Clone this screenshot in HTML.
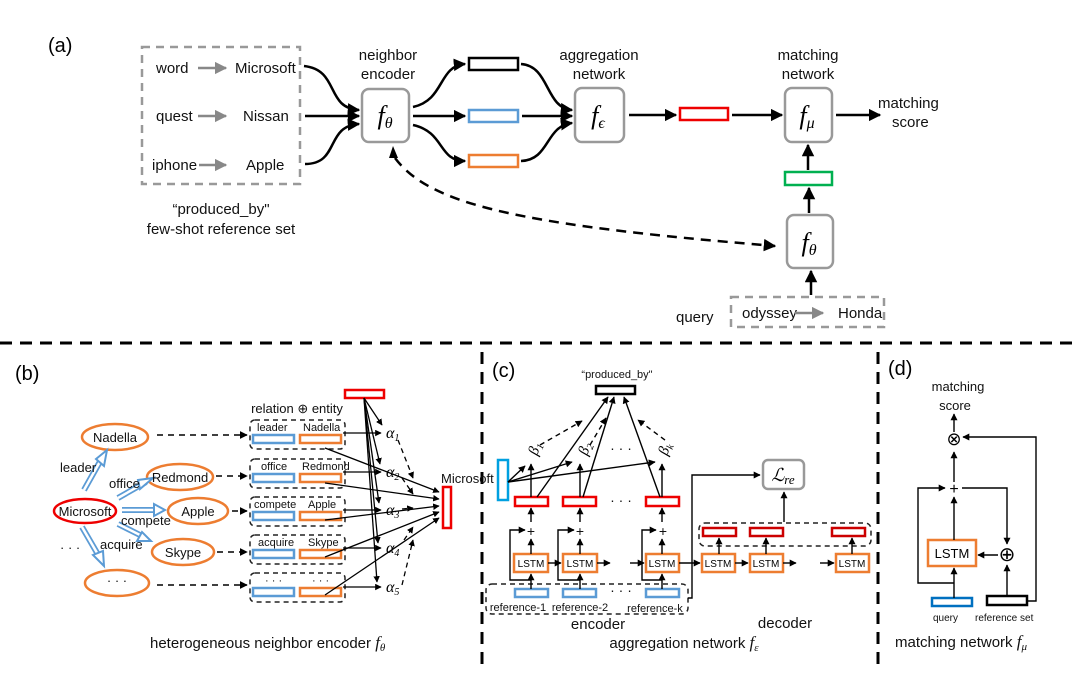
<!DOCTYPE html>
<html><head><meta charset="utf-8"><style>
html,body{margin:0;padding:0;background:#fff;}
svg{display:block;font-family:"Liberation Sans",sans-serif;}
.t{font-size:15px;fill:#111;}
.s{font-size:11px;fill:#111;}
.m{font-family:"Liberation Serif",serif;font-style:italic;}
</style></head><body>
<svg width="1080" height="679" viewBox="0 0 1080 679" xmlns="http://www.w3.org/2000/svg">
<defs>
<marker id="a" viewBox="0 0 10 10" refX="9" refY="5" markerWidth="5" markerHeight="5" orient="auto"><path d="M0,0L10,5L0,10z" fill="#000"/></marker>
<marker id="g" viewBox="0 0 10 10" refX="9" refY="5" markerWidth="5" markerHeight="5" orient="auto"><path d="M0,0L10,5L0,10z" fill="#888"/></marker>
</defs>
<!-- (a) -->
<text x="48" y="52" style="font-size:20px">(a)</text>
<rect x="142" y="47" width="158" height="137" fill="none" stroke="#999" stroke-width="2.5" stroke-dasharray="8,6"/>
<g class="t">
<text x="156" y="73">word</text><text x="235" y="73">Microsoft</text>
<text x="156" y="121">quest</text><text x="243" y="121">Nissan</text>
<text x="152" y="170">iphone</text><text x="246" y="170">Apple</text>
<text x="221" y="214" text-anchor="middle">“produced_by"</text>
<text x="221" y="234" text-anchor="middle">few-shot reference set</text>
<text x="388" y="60" text-anchor="middle">neighbor</text><text x="388" y="79" text-anchor="middle">encoder</text>
<text x="599" y="60" text-anchor="middle">aggregation</text><text x="599" y="79" text-anchor="middle">network</text>
<text x="808" y="60" text-anchor="middle">matching</text><text x="808" y="79" text-anchor="middle">network</text>
<text x="878" y="108">matching</text><text x="892" y="127">score</text>
<text x="676" y="322">query</text>
<text x="742" y="318">odyssey</text><text x="838" y="318">Honda</text>
</g>
<g stroke="#888" stroke-width="2.5" marker-end="url(#g)">
<line x1="198" y1="68" x2="226" y2="68"/><line x1="198" y1="116" x2="226" y2="116"/><line x1="199" y1="165" x2="226" y2="165"/>
<line x1="795" y1="313" x2="823" y2="313"/>
</g>
<rect x="731" y="297" width="153" height="30" fill="none" stroke="#999" stroke-width="2.5" stroke-dasharray="8,6"/>
<g fill="#fff" stroke="#999" stroke-width="2.5">
<rect x="362" y="89" width="47" height="53" rx="7"/>
<rect x="575" y="88" width="49" height="54" rx="7"/>
<rect x="785" y="88" width="47" height="54" rx="7"/>
<rect x="787" y="215" width="46" height="53" rx="7"/>
</g>
<g class="m" style="font-size:26px" text-anchor="middle">
<text x="385" y="124">f<tspan style="font-size:16px" dy="4">θ</tspan></text>
<text x="598" y="124">f<tspan style="font-size:16px" dy="4">ϵ</tspan></text>
<text x="807" y="124">f<tspan style="font-size:16px" dy="4">μ</tspan></text>
<text x="809" y="251">f<tspan style="font-size:16px" dy="4">θ</tspan></text>
</g>
<g fill="none" stroke="#000" stroke-width="2.5" marker-end="url(#a)">
<path d="M304,66 C340,70 325,108 359,110"/>
<path d="M305,116 L359,116"/>
<path d="M305,164 C340,164 325,126 359,124"/>
<path d="M413,107 C445,100 438,66 465,64"/>
<path d="M413,116 L465,116"/>
<path d="M413,125 C445,132 438,161 465,161"/>
<path d="M521,64 C550,66 545,108 572,110"/>
<path d="M522,116 L572,116"/>
<path d="M521,161 C550,160 545,126 572,123"/>
<path d="M629,115 L676,115"/>
<path d="M732,115 L782,115"/>
<path d="M836,115 L880,115"/>
<path d="M808,170 L808,145"/>
<path d="M809,213 L809,188"/>
<path d="M811,295 L811,271"/>
<path d="M395,158 C430,205 520,225 775,246" stroke-dasharray="10,7"/>
</g>
<path d="M398,158 L393,146 L389,158z" fill="#000"/>
<rect x="469" y="58" width="49" height="12" fill="none" stroke="#000" stroke-width="2.5"/>
<rect x="469" y="110" width="49" height="12" fill="none" stroke="#5b9bd5" stroke-width="2.5"/>
<rect x="469" y="155" width="49" height="12" fill="none" stroke="#ed7d31" stroke-width="2.5"/>
<rect x="680" y="108" width="48" height="12" fill="none" stroke="#e00" stroke-width="2.5"/>
<rect x="785" y="172" width="47" height="13" fill="none" stroke="#00b050" stroke-width="2.5"/>
<!-- separators -->
<g stroke="#000" stroke-width="3" stroke-dasharray="12,8">
<line x1="0" y1="343" x2="1080" y2="343"/>
<line x1="482" y1="352" x2="482" y2="672"/>
<line x1="878" y1="352" x2="878" y2="672"/>
</g>
<!-- (b) -->
<text x="15" y="380" style="font-size:20px">(b)</text>
<g fill="none" stroke="#ed7d31" stroke-width="2.5">
<ellipse cx="115" cy="437" rx="33" ry="13"/>
<ellipse cx="180" cy="477" rx="33" ry="13"/>
<ellipse cx="198" cy="511" rx="30" ry="13"/>
<ellipse cx="183" cy="552" rx="31" ry="13"/>
<ellipse cx="117" cy="583" rx="32" ry="13"/>
</g>
<ellipse cx="85" cy="511" rx="31" ry="12" fill="none" stroke="#e00" stroke-width="2.5"/>
<g stroke="#5b9bd5" stroke-width="6" fill="none">
<line x1="84" y1="490" x2="102" y2="458"/><line x1="118" y1="498" x2="146" y2="482"/>
<line x1="122" y1="510" x2="157" y2="510"/><line x1="118" y1="524" x2="144" y2="537"/>
<line x1="82" y1="527" x2="100" y2="558"/>
</g>
<g stroke="#fff" stroke-width="2.5" fill="none">
<line x1="84" y1="490" x2="102" y2="458"/><line x1="118" y1="498" x2="146" y2="482"/>
<line x1="122" y1="510" x2="157" y2="510"/><line x1="118" y1="524" x2="144" y2="537"/>
<line x1="82" y1="527" x2="100" y2="558"/>
</g>
<g fill="#fff" stroke="#5b9bd5" stroke-width="2">
<path d="M107,450 L104,466 L96,459z"/><path d="M153,478 L140,489 L138,480z"/>
<path d="M165,510 L154,516 L154,504z"/><path d="M151,541 L137,541 L142,532z"/>
<path d="M104,566 L93,555 L103,551z"/>
</g>
<g class="t" style="font-size:13px">
<text x="115" y="442" text-anchor="middle">Nadella</text>
<text x="180" y="482" text-anchor="middle">Redmond</text>
<text x="85" y="516" text-anchor="middle">Microsoft</text>
<text x="198" y="516" text-anchor="middle">Apple</text>
<text x="183" y="557" text-anchor="middle">Skype</text>
<text x="117" y="585" text-anchor="middle">· · ·</text>
<text x="60" y="552">· · ·</text>
<text x="60" y="472">leader</text>
<text x="109" y="488">office</text>
<text x="121" y="525">compete</text>
<text x="100" y="549">acquire</text>
<text x="297" y="413" text-anchor="middle">relation ⊕ entity</text>
<text x="441" y="483">Microsoft</text>
</g>
<g stroke="#000" stroke-width="1.6" stroke-dasharray="6,5" fill="none" marker-end="url(#a)">
<line x1="157" y1="435" x2="247" y2="435"/><line x1="216" y1="476" x2="247" y2="476"/>
<line x1="232" y1="511" x2="247" y2="511"/><line x1="217" y1="552" x2="247" y2="552"/>
<line x1="157" y1="585" x2="247" y2="585"/>
</g>
<g fill="none" stroke="#222" stroke-width="1.5" stroke-dasharray="5,4">
<rect x="250" y="420" width="95" height="29" rx="5"/><rect x="250" y="459" width="95" height="29" rx="5"/>
<rect x="250" y="497" width="95" height="29" rx="5"/><rect x="250" y="535" width="95" height="29" rx="5"/>
<rect x="250" y="573" width="95" height="29" rx="5"/>
</g>
<g class="s">
<text x="257" y="431">leader</text><text x="303" y="431">Nadella</text>
<text x="261" y="470">office</text><text x="302" y="470">Redmond</text>
<text x="254" y="508">compete</text><text x="308" y="508">Apple</text>
<text x="258" y="546">acquire</text><text x="308" y="546">Skype</text>
<text x="265" y="584">· · ·</text><text x="312" y="584">· · ·</text>
</g>
<g fill="none" stroke-width="2.5">
<g stroke="#5b9bd5"><rect x="253" y="435" width="41" height="8"/><rect x="253" y="474" width="41" height="8"/><rect x="253" y="512" width="41" height="8"/><rect x="253" y="550" width="41" height="8"/><rect x="253" y="588" width="41" height="8"/></g>
<g stroke="#ed7d31"><rect x="300" y="435" width="41" height="8"/><rect x="300" y="474" width="41" height="8"/><rect x="300" y="512" width="41" height="8"/><rect x="300" y="550" width="41" height="8"/><rect x="300" y="588" width="41" height="8"/></g>
<rect x="345" y="390" width="39" height="8" stroke="#e00"/>
<rect x="443" y="487" width="8" height="41" stroke="#e00"/>
</g>
<g stroke="#000" stroke-width="1.3" fill="none" marker-end="url(#a)">
<line x1="364" y1="398" x2="382" y2="425"/><line x1="364" y1="398" x2="380" y2="464"/>
<line x1="364" y1="398" x2="379" y2="503"/><line x1="364" y1="398" x2="378" y2="543"/>
<line x1="364" y1="398" x2="377" y2="582"/>
<line x1="343" y1="433" x2="381" y2="433"/><line x1="343" y1="472" x2="381" y2="472"/>
<line x1="343" y1="510" x2="381" y2="510"/><line x1="343" y1="548" x2="381" y2="548"/>
<line x1="343" y1="587" x2="381" y2="587"/>
<line x1="325" y1="448" x2="439" y2="492"/><line x1="325" y1="483" x2="439" y2="499"/>
<line x1="325" y1="520" x2="439" y2="506"/><line x1="325" y1="557" x2="439" y2="512"/>
<line x1="325" y1="595" x2="439" y2="518"/>
</g>
<g stroke="#000" stroke-width="1.3" stroke-dasharray="5,4" fill="none" marker-end="url(#a)">
<line x1="398" y1="440" x2="413" y2="478"/><line x1="402" y1="478" x2="413" y2="494"/>
<line x1="402" y1="509" x2="413" y2="508"/><line x1="404" y1="540" x2="413" y2="527"/>
<line x1="402" y1="585" x2="413" y2="540"/>
</g>
<g class="m" style="font-size:16px">
<text x="386" y="438">α<tspan style="font-size:10px" dy="3">1</tspan></text>
<text x="386" y="477">α<tspan style="font-size:10px" dy="3">2</tspan></text>
<text x="386" y="515">α<tspan style="font-size:10px" dy="3">3</tspan></text>
<text x="386" y="553">α<tspan style="font-size:10px" dy="3">4</tspan></text>
<text x="386" y="592">α<tspan style="font-size:10px" dy="3">5</tspan></text>
</g>
<text x="150" y="648" class="t" style="font-size:15px">heterogeneous  neighbor  encoder <tspan class="m" style="font-size:17px">f<tspan style="font-size:11px" dy="3">θ</tspan></tspan></text>
<!-- (c) -->
<text x="492" y="377" style="font-size:20px">(c)</text>
<text x="617" y="378" class="s" text-anchor="middle">“produced_by"</text>
<rect x="596" y="386" width="39" height="8" fill="none" stroke="#000" stroke-width="2.5"/>
<rect x="498" y="460" width="10" height="40" fill="none" stroke="#00a0e0" stroke-width="2.5"/>
<g fill="none" stroke="#e00" stroke-width="2.5">
<rect x="515" y="497" width="33" height="9"/><rect x="563" y="497" width="33" height="9"/><rect x="646" y="497" width="33" height="9"/>
<rect x="703" y="528" width="33" height="8" stroke="#c00"/><rect x="750" y="528" width="33" height="8" stroke="#c00"/><rect x="832" y="528" width="33" height="8" stroke="#c00"/>
</g>
<g fill="none" stroke="#ed7d31" stroke-width="2.5">
<rect x="514" y="554" width="34" height="18"/><rect x="563" y="554" width="34" height="18"/><rect x="646" y="554" width="33" height="18"/>
<rect x="702" y="554" width="33" height="18"/><rect x="750" y="554" width="33" height="18"/><rect x="836" y="554" width="33" height="18"/>
</g>
<g fill="none" stroke="#5b9bd5" stroke-width="2.5">
<rect x="515" y="589" width="33" height="8"/><rect x="563" y="589" width="33" height="8"/><rect x="646" y="589" width="33" height="8"/>
</g>
<g fill="none" stroke="#222" stroke-width="1.5" stroke-dasharray="5,4">
<rect x="486" y="584" width="202" height="30" rx="6"/>
<rect x="699" y="523" width="172" height="23" rx="6"/>
</g>
<rect x="763" y="460" width="41" height="29" rx="5" fill="#fff" stroke="#999" stroke-width="2.5"/>
<text x="783" y="481" class="m" text-anchor="middle" style="font-size:18px">ℒ<tspan style="font-size:13px" dy="3">re</tspan></text>
<g style="font-size:10px" text-anchor="middle">
<text x="531" y="567">LSTM</text><text x="580" y="567">LSTM</text><text x="662" y="567">LSTM</text>
<text x="718" y="567">LSTM</text><text x="766" y="567">LSTM</text><text x="852" y="567">LSTM</text>
</g>
<g class="s" text-anchor="middle">
<text x="518" y="611">reference-1</text><text x="580" y="611">reference-2</text><text x="655" y="612">reference-k</text>
</g>
<g class="t" text-anchor="middle" style="font-size:15px">
<text x="598" y="629">encoder</text><text x="785" y="628">decoder</text>
<text x="684" y="648">aggregation network <tspan class="m" style="font-size:17px">f<tspan style="font-size:11px" dy="3">ε</tspan></tspan></text>
</g>
<g class="t" style="font-size:14px" text-anchor="middle">
<text x="621" y="453">· · ·</text><text x="621" y="505">· · ·</text><text x="621" y="595">· · ·</text>
<text x="531" y="536">+</text><text x="580" y="536">+</text><text x="663" y="536">+</text>
</g>
<g class="m" style="font-size:15px">
<text transform="translate(537,456) rotate(-70)">β<tspan style="font-size:10px" dy="3">1</tspan></text>
<text transform="translate(587,456) rotate(-70)">β<tspan style="font-size:10px" dy="3">2</tspan></text>
<text transform="translate(667,456) rotate(-70)">β<tspan style="font-size:10px" dy="3">k</tspan></text>
</g>
<g stroke="#000" stroke-width="1.4" fill="none" marker-end="url(#a)">
<line x1="531" y1="497" x2="531" y2="464"/><line x1="580" y1="497" x2="580" y2="464"/><line x1="662" y1="497" x2="662" y2="464"/>
<line x1="537" y1="497" x2="608" y2="397"/><line x1="583" y1="497" x2="614" y2="397"/><line x1="660" y1="497" x2="624" y2="397"/>
<line x1="508" y1="482" x2="525" y2="466"/><line x1="508" y1="482" x2="572" y2="462"/><line x1="508" y1="482" x2="655" y2="462"/>
<line x1="531" y1="522" x2="531" y2="508"/><line x1="580" y1="522" x2="580" y2="508"/><line x1="662" y1="522" x2="662" y2="508"/>
<line x1="531" y1="554" x2="531" y2="539"/><line x1="580" y1="554" x2="580" y2="539"/><line x1="662" y1="554" x2="662" y2="539"/>
<line x1="531" y1="589" x2="531" y2="574"/><line x1="580" y1="589" x2="580" y2="574"/><line x1="662" y1="589" x2="662" y2="574"/>
<polyline points="531,580 510,580 510,530 525,530"/><polyline points="580,580 558,580 558,530 574,530"/><polyline points="662,580 642,580 642,530 656,530"/>
<line x1="548" y1="563" x2="561" y2="563"/><line x1="597" y1="563" x2="610" y2="563"/><line x1="630" y1="563" x2="644" y2="563"/>
<line x1="679" y1="563" x2="700" y2="563"/><line x1="735" y1="563" x2="748" y2="563"/><line x1="783" y1="563" x2="796" y2="563"/><line x1="820" y1="563" x2="834" y2="563"/>
<line x1="719" y1="554" x2="719" y2="538"/><line x1="766" y1="554" x2="766" y2="538"/><line x1="852" y1="554" x2="852" y2="538"/>
<line x1="784" y1="522" x2="784" y2="492"/>
<polyline points="688,598 692,598 692,475 760,475"/>
</g>
<g stroke="#000" stroke-width="1.4" fill="none" stroke-dasharray="5,4" marker-end="url(#a)">
<line x1="540" y1="445" x2="582" y2="421"/><line x1="590" y1="445" x2="606" y2="418"/><line x1="665" y1="440" x2="638" y2="420"/>
</g>
<!-- (d) -->
<text x="888" y="375" style="font-size:20px">(d)</text>
<g class="t" style="font-size:13px" text-anchor="middle"><text x="958" y="391">matching</text><text x="955" y="410">score</text></g>
<text x="954" y="445" text-anchor="middle" style="font-size:18px">⊗</text>
<text x="954" y="494" text-anchor="middle" style="font-size:16px">+</text>
<text x="1007" y="561" text-anchor="middle" style="font-size:20px">⊕</text>
<rect x="928" y="540" width="48" height="26" fill="none" stroke="#ed7d31" stroke-width="2.5"/>
<text x="952" y="558" text-anchor="middle" style="font-size:13px">LSTM</text>
<rect x="932" y="598" width="40" height="8" fill="none" stroke="#0070c0" stroke-width="2.5"/>
<rect x="987" y="596" width="40" height="9" fill="none" stroke="#000" stroke-width="2.5"/>
<g class="s" style="font-size:10px"><text x="933" y="621">query</text><text x="975" y="621">reference  set</text></g>
<text x="895" y="647" class="t" style="font-size:15px">matching network <tspan class="m" style="font-size:17px">f<tspan style="font-size:11px" dy="3">μ</tspan></tspan></text>
<g stroke="#000" stroke-width="1.4" fill="none" marker-end="url(#a)">
<line x1="954" y1="432" x2="954" y2="414"/>
<line x1="954" y1="482" x2="954" y2="452"/>
<line x1="954" y1="540" x2="954" y2="497"/>
<line x1="954" y1="598" x2="954" y2="568"/>
<polyline points="954,583 918,583 918,488 945,488"/>
<polyline points="962,488 1007,488 1007,544"/>
<line x1="1007" y1="596" x2="1007" y2="565"/>
<line x1="998" y1="555" x2="978" y2="555"/>
<polyline points="1027,601 1036,601 1036,437 963,437"/>
</g>
</svg>
</body></html>
